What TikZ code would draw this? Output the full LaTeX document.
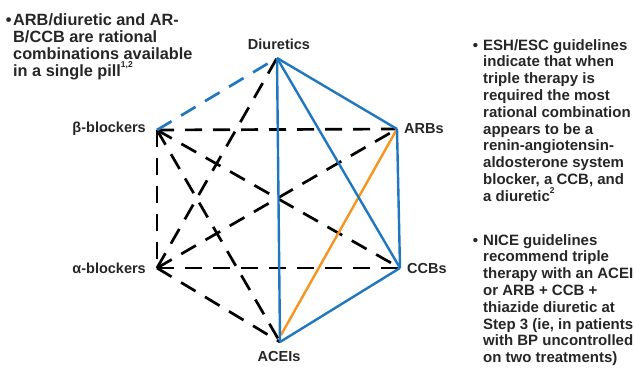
\documentclass[tikz,border=0pt]{standalone}
\usepackage{fontspec}
\setmainfont{Liberation Sans}
\definecolor{txt}{HTML}{262626}
\definecolor{lblue}{HTML}{1F77C0}
\definecolor{lorange}{HTML}{F7941D}
\newcommand{\supsm}[1]{\raisebox{0.55em}{\fontsize{8.5}{9}\selectfont #1}}
\begin{document}
\begin{tikzpicture}[x=1pt,y=-1pt,
  lbl/.style={font=\bfseries\fontsize{14.5}{16}\selectfont, text=txt, inner sep=0pt},
  paraL/.style={font=\bfseries\fontsize{16.3}{17.2}\selectfont, text=txt, inner sep=0pt, align=left, anchor=north west},
  paraR/.style={font=\bfseries\fontsize{15}{16.8}\selectfont, text=txt, inner sep=0pt, align=left, anchor=north west},
  dsh/.style={draw=black, line width=2.7pt, dash pattern=on 17pt off 11pt},
  bsol/.style={draw=lblue, line width=2.4pt},
  bdsh/.style={draw=lblue, line width=2.7pt, dash pattern=on 17pt off 11pt},
  osol/.style={draw=lorange, line width=2.4pt}]
\useasboundingbox (0,0) rectangle (634,376);
% vertices
\coordinate (diu) at (277,58);
\coordinate (arb) at (397,129);
\coordinate (beta) at (157,130);
\coordinate (alpha) at (157,268);
\coordinate (ccb) at (400,268);
\coordinate (acei) at (280,342);
\coordinate (aceiO) at (281,335);
% labels
\node[lbl, anchor=base] (ldiu) at (279,49) {Diuretics};
\node[lbl, anchor=west] (larb) at (404,129) {ARBs};
\node[lbl, anchor=east] (lbeta) at (146,129) {β-blockers};
\node[lbl, anchor=east] (lalpha) at (146,268) {α-blockers};
\node[lbl, anchor=west] (lccb) at (407,268) {CCBs};
\node[lbl, anchor=base] (lacei) at (279,361) {ACEIs};
% black dashed
\draw[dsh] (beta) -- (arb);
\draw[dsh] (beta) -- (ccb);
\draw[dsh] (beta) -- (acei);
\draw[dsh] (beta) -- (alpha);
\draw[dsh] (alpha) -- (diu);
\draw[dsh] (alpha) -- (arb);
\draw[dsh] (alpha) -- (ccb);
\draw[dsh] (alpha) -- (acei);
% coloured
\draw[bdsh] (beta) -- (diu);
\draw[osol] (arb) -- (aceiO);
\draw[bsol] (diu) -- (arb);
\draw[bsol] (diu) -- (ccb);
\draw[bsol] (diu) -- (acei);
\draw[bsol] (arb) -- (ccb);
\draw[bsol] (ccb) -- (acei);
% left text
\node[paraL] (t1) at (13,13) {\llap{•\hspace{1.5pt}}ARB/diuretic and AR-\\B/CCB are rational\\combinations available\\in a single pill\supsm{1,2}};
% right text
\node[paraR] (t2) at (483,39) {\llap{•\hspace{5pt}}ESH/ESC guidelines\\indicate that when\\triple therapy is\\required the most\\rational combination\\appears to be a\\renin-angiotensin-\\aldosterone system\\blocker, a CCB, and\\a diuretic\supsm{2}};
\node[paraR] (t3) at (483,234) {\llap{•\hspace{5pt}}NICE guidelines\\recommend triple\\therapy with an ACEI\\or ARB + CCB +\\thiazide diuretic at\\Step 3 (ie, in patients\\with BP uncontrolled\\on two treatments)};
\end{tikzpicture}
\end{document}
